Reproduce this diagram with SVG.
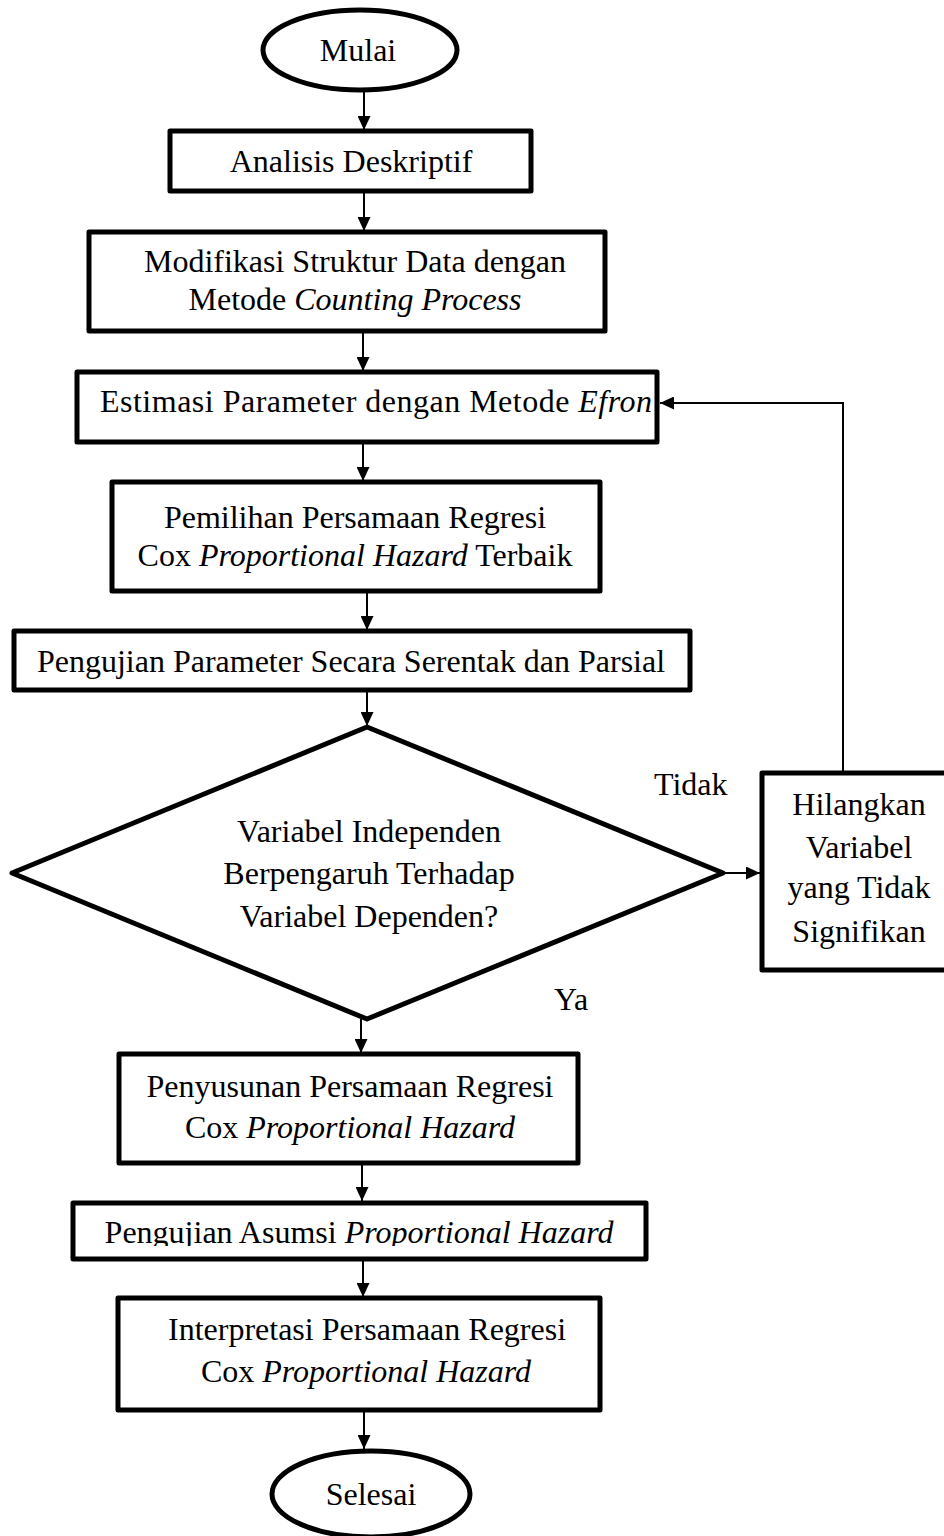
<svg xmlns="http://www.w3.org/2000/svg" width="944" height="1536" viewBox="0 0 944 1536">
<style>
.box{fill:#fff;stroke:#000;stroke-width:5;stroke-linejoin:round}
.conn{fill:none;stroke:#000;stroke-width:2}
text{font-family:"Liberation Serif","Times New Roman",serif;font-size:32px;fill:#000;text-anchor:middle}
.it{font-style:italic}
.lab{text-anchor:start}
</style>
<defs>
<marker id="ah" markerUnits="userSpaceOnUse" markerWidth="15" markerHeight="13" refX="14" refY="6.5" orient="auto">
<path d="M0,0 L14,6.5 L0,13 z" fill="#000"/>
</marker>
<clipPath id="clipAsumsi"><rect x="70" y="1200" width="580" height="46"/></clipPath>
</defs>
<rect width="944" height="1536" fill="#fff"/>
<g id="connectors">
<line class="conn" x1="364" y1="91" x2="364" y2="130" marker-end="url(#ah)"/>
<line class="conn" x1="364" y1="193" x2="364" y2="231" marker-end="url(#ah)"/>
<line class="conn" x1="363" y1="333" x2="363" y2="371" marker-end="url(#ah)"/>
<line class="conn" x1="363" y1="444" x2="363" y2="481" marker-end="url(#ah)"/>
<line class="conn" x1="367" y1="593" x2="367" y2="630" marker-end="url(#ah)"/>
<line class="conn" x1="367" y1="692" x2="367" y2="726" marker-end="url(#ah)"/>
<line class="conn" x1="361" y1="1019" x2="361" y2="1053" marker-end="url(#ah)"/>
<line class="conn" x1="362" y1="1165" x2="362" y2="1201" marker-end="url(#ah)"/>
<line class="conn" x1="363" y1="1261" x2="363" y2="1297" marker-end="url(#ah)"/>
<line class="conn" x1="364" y1="1412" x2="364" y2="1449" marker-end="url(#ah)"/>
<line class="conn" x1="724" y1="873" x2="760" y2="873" marker-end="url(#ah)"/>
<polyline class="conn" points="843,771 843,403 660,403" marker-end="url(#ah)"/>
</g>
<g id="mulai">
<ellipse class="box" cx="360" cy="50" rx="97" ry="40"/>
<text x="358" y="61">Mulai</text>
</g>
<g id="analisis">
<rect class="box" x="170" y="131" width="361" height="60"/>
<text x="351" y="172">Analisis Deskriptif</text>
</g>
<g id="modifikasi">
<rect class="box" x="89" y="232" width="516" height="99"/>
<text x="355" y="272">Modifikasi Struktur Data dengan</text>
<text x="355" y="310">Metode <tspan class="it">Counting Process</tspan></text>
</g>
<g id="estimasi">
<rect class="box" x="77" y="372" width="580" height="70"/>
<text class="lab" x="100" y="412" textLength="552" lengthAdjust="spacing">Estimasi Parameter dengan Metode <tspan class="it">Efron</tspan></text>
</g>
<g id="pemilihan">
<rect class="box" x="112" y="482" width="488" height="109"/>
<text x="355" y="528">Pemilihan Persamaan Regresi</text>
<text x="355" y="566">Cox <tspan class="it">Proportional Hazard</tspan> Terbaik</text>
</g>
<g id="pengujian-parameter">
<rect class="box" x="14" y="631" width="676" height="59"/>
<text x="351" y="672">Pengujian Parameter Secara Serentak dan Parsial</text>
</g>
<g id="keputusan">
<polygon class="box" points="367,727 723,873 367,1019 12,873"/>
<text x="369" y="842">Variabel Independen</text>
<text x="369" y="884">Berpengaruh Terhadap</text>
<text x="369" y="927">Variabel Dependen?</text>
</g>
<g id="label-tidak"><text class="lab" x="654" y="795">Tidak</text></g>
<g id="label-ya"><text class="lab" x="554" y="1010">Ya</text></g>
<g id="hilangkan">
<rect class="box" x="762" y="773" width="196" height="197"/>
<text x="859" y="815">Hilangkan</text>
<text x="859" y="858">Variabel</text>
<text x="859" y="898">yang Tidak</text>
<text x="859" y="942">Signifikan</text>
</g>
<g id="penyusunan">
<rect class="box" x="119" y="1054" width="459" height="109"/>
<text x="350" y="1097">Penyusunan Persamaan Regresi</text>
<text x="350" y="1138">Cox <tspan class="it">Proportional Hazard</tspan></text>
</g>
<g id="pengujian-asumsi">
<rect class="box" x="73" y="1203" width="573" height="56"/>
<text x="359" y="1243" clip-path="url(#clipAsumsi)">Pengujian Asumsi <tspan class="it">Proportional Hazard</tspan></text>
</g>
<g id="interpretasi">
<rect class="box" x="118" y="1298" width="482" height="112"/>
<text x="367" y="1340">Interpretasi Persamaan Regresi</text>
<text x="366" y="1382">Cox <tspan class="it">Proportional Hazard</tspan></text>
</g>
<g id="selesai">
<ellipse class="box" cx="371" cy="1494" rx="99" ry="43"/>
<text x="371" y="1505">Selesai</text>
</g>
</svg>
